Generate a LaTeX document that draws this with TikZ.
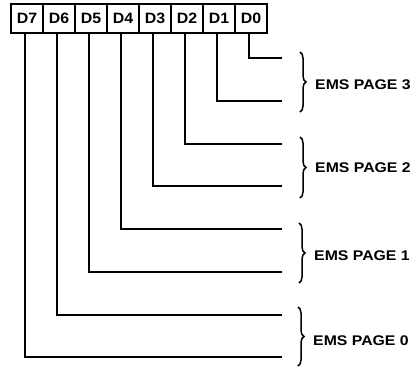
\documentclass[tikz,border=0pt]{standalone}
\usepackage{fontspec}
\usepackage{graphicx}
\newfontfamily\labfont{Liberation Sans}
\usetikzlibrary{decorations.pathreplacing}
\tikzset{
  bitbox/.style={draw, line width=1.6pt, minimum width=32pt, minimum height=29pt, inner sep=0pt,
    font=\labfont\bfseries\fontsize{15}{15}\selectfont},
  wire/.style={line width=1.6pt, line cap=rect},
  pagebrace/.style={line width=1.5pt, decorate, decoration={brace, amplitude=6pt}},
  pagelabel/.style={anchor=west, inner sep=0pt, font=\labfont\bfseries\fontsize{14}{14}\selectfont}
}
\newcommand{\bitwide}[1]{\scalebox{1.06}[1]{#1}}
\newcommand{\labwide}[1]{\scalebox{1.13}[1]{#1}}
\begin{document}
\begin{tikzpicture}[x=1pt,y=-1pt]
\useasboundingbox (0,0) rectangle (416,368);
% bit boxes
\foreach \i/\n in {7/0,6/1,5/2,4/3,3/4,2/5,1/6,0/7} {
  \node[bitbox] (d\i) at (27+32*\n, 18.5) {\bitwide{D\i}};
}
% connector end points
\foreach \i/\yy in {0/58,1/101,2/144,3/186,4/229,5/272,6/315,7/357} {
  \coordinate (e\i) at (281,\yy);
}
\foreach \i in {0,...,7} {
  \draw[wire] ([xshift=-2pt]d\i.south) |- (e\i);
}
% braces
\coordinate (b3t) at (300,52);  \coordinate (b3b) at (300,112);
\coordinate (b2t) at (300,137); \coordinate (b2b) at (300,198);
\coordinate (b1t) at (299,223); \coordinate (b1b) at (299,283);
\coordinate (b0t) at (298,307); \coordinate (b0b) at (298,366);
\draw[pagebrace] (b3t) -- (b3b);
\draw[pagebrace] (b2t) -- (b2b);
\draw[pagebrace] (b1t) -- (b1b);
\draw[pagebrace] (b0t) -- (b0b);
\node[pagelabel] (p3) at (315,85) {\labwide{EMS PAGE 3}};
\node[pagelabel] (p2) at (315,168) {\labwide{EMS PAGE 2}};
\node[pagelabel] (p1) at (314,256) {\labwide{EMS PAGE 1}};
\node[pagelabel] (p0) at (313,341) {\labwide{EMS PAGE 0}};
\end{tikzpicture}
\end{document}
